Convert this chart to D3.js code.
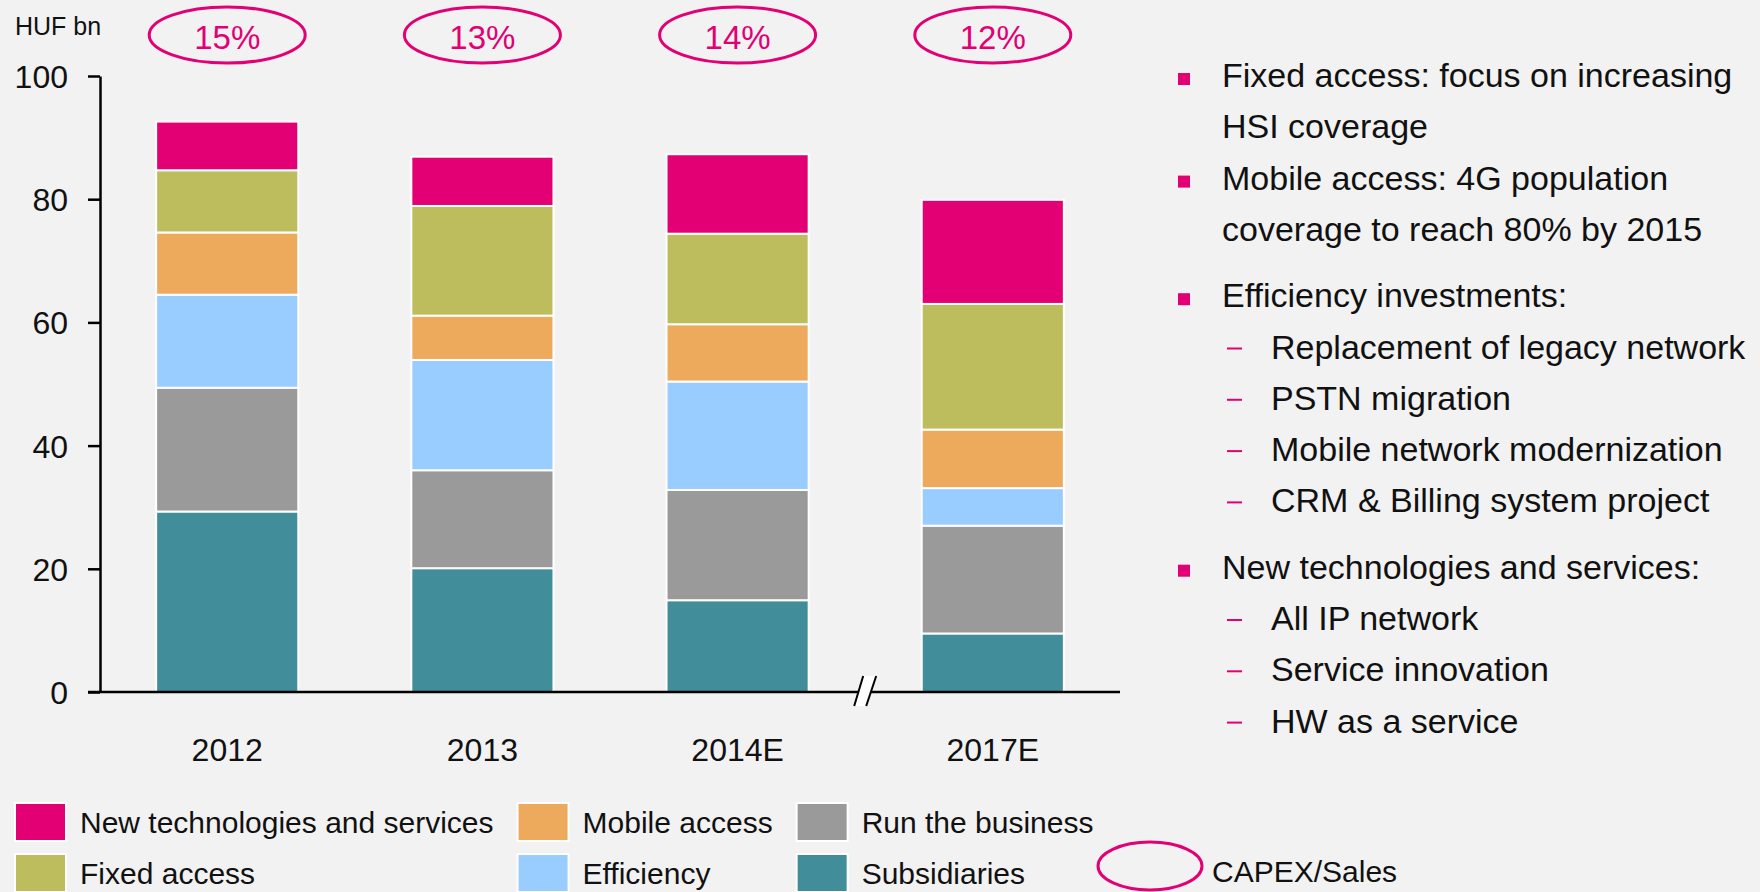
<!DOCTYPE html>
<html>
<head>
<meta charset="utf-8">
<script src="https://cdn.jsdelivr.net/npm/d3@7"></script>
<style>
    html, body { margin: 0; padding: 0; background: #f2f2f2; }
    svg { display: block; font-family: "Liberation Sans", Arial, sans-serif; }
</style>
</head>
<body>
<svg id="chart" width="1760" height="892"></svg>
<script>
    "use strict";

    // data (HUF bn)
    var categories = ["2012", "2013", "2014E", "2017E"];
    var seriesNames = ["Subsidiaries", "Run the business", "Efficiency", "Mobile access", "Fixed access", "New technologies and services"];
    var subsidiaries = [29.3, 20.1, 14.9, 9.5];
    var runTheBusiness = [20.1, 15.9, 17.9, 17.5];
    var efficiency = [15.1, 17.9, 17.6, 6.1];
    var mobileAccess = [10.1, 7.2, 9.3, 9.5];
    var fixedAccess = [10.1, 17.8, 14.7, 20.4];
    var newTechnologies = [7.9, 8.0, 12.9, 16.9];
    var capexSales = ["15%", "13%", "14%", "12%"];
    var yTicks = [0, 20, 40, 60, 80, 100];
    var legendOrder = ["New technologies and services", "Fixed access", "Mobile access", "Efficiency", "Run the business", "Subsidiaries"];

    var notes = [
        { lines: ["Fixed access: focus on increasing", "HSI coverage"], subs: [] },
        { lines: ["Mobile access: 4G population", "coverage to reach 80% by 2015"], subs: [] },
        { lines: ["Efficiency investments:"], subs: ["Replacement of legacy network", "PSTN migration", "Mobile network modernization", "CRM & Billing system project"] },
        { lines: ["New technologies and services:"], subs: ["All IP network", "Service innovation", "HW as a service"] }
    ];

    var magenta = "#e20074";
    var colors = {
        "Subsidiaries": "#418e9a",
        "Run the business": "#9a9a9a",
        "Efficiency": "#99ccff",
        "Mobile access": "#eda95c",
        "Fixed access": "#bdbd5d",
        "New technologies and services": magenta
    };

    var columns = [subsidiaries, runTheBusiness, efficiency, mobileAccess, fixedAccess, newTechnologies];
    var table = categories.map(function (c, i) {
        var row = { category: c };
        seriesNames.forEach(function (s, k) { row[s] = columns[k][i]; });
        return row;
    });

    var svg = d3.select("#chart");
    var axisX = 100, baseY = 692;

    var y = d3.scaleLinear().domain([0, 100]).range([baseY, 76]);
    var x = d3.scaleBand().domain(categories).range([axisX, 1120]).paddingInner(0.443).paddingOuter(0.22);

    var stacked = d3.stack().keys(seriesNames)(table);

    // bars
    svg.append("g")
        .selectAll("g")
        .data(stacked)
        .enter()
        .append("g")
        .attr("fill", function (d) { return colors[d.key]; })
        .selectAll("rect")
        .data(function (d) { return d; })
        .enter()
        .append("rect")
        .attr("x", function (d) { return x(d.data.category); })
        .attr("y", function (d) { return y(d[1]); })
        .attr("width", x.bandwidth())
        .attr("height", function (d) { return y(d[0]) - y(d[1]); })
        .attr("stroke", "#fff")
        .attr("stroke-width", 2);

    // y axis
    var yAxis = svg.append("g")
        .attr("transform", "translate(" + axisX + ",0)")
        .call(d3.axisLeft(y).tickValues(yTicks).tickSize(12).tickPadding(20).tickSizeOuter(0));
    yAxis.select(".domain").attr("stroke", "#000").attr("stroke-width", 2.5);
    yAxis.selectAll(".tick line").attr("stroke", "#000").attr("stroke-width", 2.5);
    yAxis.selectAll(".tick text")
        .attr("font-family", "Liberation Sans, Arial, sans-serif")
        .attr("font-size", 32)
        .attr("fill", "#111")
        .attr("dy", "0.36em");

    // x axis baseline
    svg.append("line")
        .attr("x1", axisX - 12).attr("x2", x.range()[1])
        .attr("y1", baseY).attr("y2", baseY)
        .attr("stroke", "#000").attr("stroke-width", 2.5);

    // axis break between 2014E and 2017E
    var mid = (x("2014E") + x("2017E") + x.bandwidth()) / 2;
    var brk = svg.append("g");
    brk.append("polygon")
        .attr("points", [[mid - 11, baseY + 14], [mid - 2, baseY - 16], [mid + 11, baseY - 16], [mid + 1, baseY + 14]].join(" "))
        .attr("fill", "#fff");
    [[-11, -2], [1, 11]].forEach(function (p) {
        brk.append("line")
            .attr("x1", mid + p[0]).attr("y1", baseY + 14)
            .attr("x2", mid + p[1]).attr("y2", baseY - 16)
            .attr("stroke", "#000").attr("stroke-width", 2);
    });

    // category labels
    svg.append("g")
        .selectAll("text")
        .data(categories)
        .enter()
        .append("text")
        .attr("x", function (d) { return x(d) + x.bandwidth() / 2; })
        .attr("y", 761)
        .attr("text-anchor", "middle")
        .attr("font-size", 32)
        .attr("fill", "#111")
        .text(function (d) { return d; });

    // unit
    svg.append("text")
        .attr("x", 15).attr("y", 35)
        .attr("font-size", 25)
        .attr("fill", "#111")
        .text("HUF bn");

    // CAPEX/Sales ellipses
    var ratio = svg.append("g")
        .selectAll("g")
        .data(categories)
        .enter()
        .append("g")
        .attr("transform", function (d) { return "translate(" + (x(d) + x.bandwidth() / 2) + ",35)"; });
    ratio.append("ellipse")
        .attr("rx", 78).attr("ry", 28)
        .attr("fill", "none").attr("stroke", magenta).attr("stroke-width", 3);
    ratio.append("text")
        .attr("y", 14)
        .attr("text-anchor", "middle")
        .attr("font-size", 33)
        .attr("fill", magenta)
        .text(function (d, i) { return capexSales[i]; });

    // legend, two rows per column
    var legend = svg.append("g");
    var colX = 15;
    for (var c = 0; c < legendOrder.length; c += 2) {
        var widest = 0;
        legendOrder.slice(c, c + 2).forEach(function (name, r) {
            var top = 803 + r * 51;
            legend.append("rect")
                .attr("x", colX).attr("y", top)
                .attr("width", 51).attr("height", 38)
                .attr("fill", colors[name])
                .attr("stroke", "#fff").attr("stroke-width", 2);
            var t = legend.append("text")
                .attr("x", colX + 65).attr("y", top + 30)
                .attr("font-size", 30)
                .attr("fill", "#111")
                .text(name);
            widest = Math.max(widest, t.node().getComputedTextLength());
        });
        colX += 65 + widest + 24;
    }
    legend.append("ellipse")
        .attr("cx", 1150).attr("cy", 866)
        .attr("rx", 52).attr("ry", 24)
        .attr("fill", "none").attr("stroke", magenta).attr("stroke-width", 3);
    legend.append("text")
        .attr("x", 1212).attr("y", 882)
        .attr("font-size", 30)
        .attr("fill", "#111")
        .text("CAPEX/Sales");

    // notes on the right
    var notesG = svg.append("g").attr("font-size", 34).attr("fill", "#111");
    var lineH = 51.3, lineY = 87;
    notes.forEach(function (n, i) {
        if (i > 0) lineY += lineH;
        if (n.subs.length) lineY += 15;
        notesG.append("rect")
            .attr("x", 1178).attr("y", lineY - 14)
            .attr("width", 12).attr("height", 12)
            .attr("fill", magenta);
        n.lines.forEach(function (l, k) {
            if (k > 0) lineY += lineH;
            notesG.append("text").attr("x", 1222).attr("y", lineY).text(l);
        });
        n.subs.forEach(function (s) {
            lineY += lineH;
            notesG.append("line")
                .attr("x1", 1227).attr("x2", 1242)
                .attr("y1", lineY - 10).attr("y2", lineY - 10)
                .attr("stroke", magenta).attr("stroke-width", 2);
            notesG.append("text").attr("x", 1271).attr("y", lineY).text(s);
        });
    });
</script>
</body>
</html>
